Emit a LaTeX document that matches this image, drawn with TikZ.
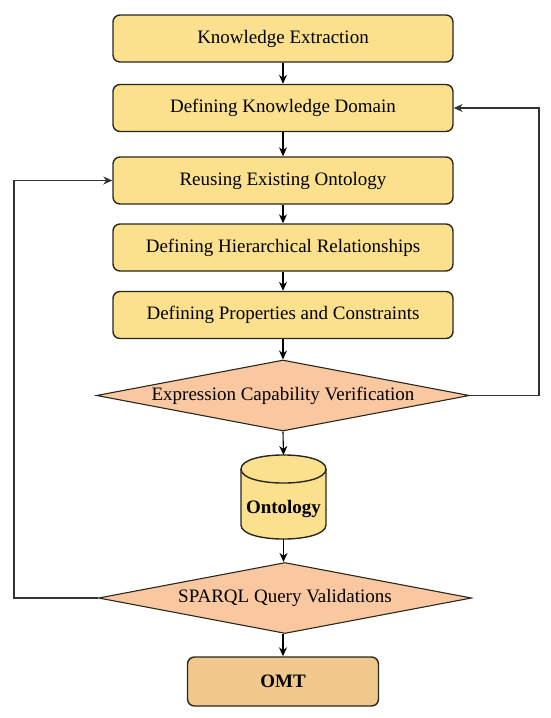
\documentclass[tikz,border=0pt]{standalone}
\usepackage{fontspec}
\setmainfont{Liberation Serif}
\usetikzlibrary{shapes.geometric,arrows.meta}
\definecolor{boxfill}{RGB}{251,224,142}
\definecolor{diafill}{RGB}{250,200,160}
\definecolor{omtfill}{RGB}{240,200,140}
\definecolor{edgec}{RGB}{40,40,30}
\tikzset{
  stepbox/.style={draw=edgec, line width=1.4pt, fill=boxfill, rounded corners=7pt,
    minimum width=340pt, minimum height=47pt, inner sep=0pt, font=\fontsize{19}{22}\selectfont},
  decide/.style={diamond, draw=edgec, line width=1.1pt, fill=diafill, aspect=5.25,
    minimum width=373pt, minimum height=71pt, inner sep=0pt, font=\fontsize{19}{22}\selectfont},
  endbox/.style={draw=edgec, line width=1.4pt, fill=omtfill, rounded corners=7pt,
    minimum width=191pt, minimum height=49pt, inner sep=0pt, font=\fontsize{19}{22}\selectfont\bfseries},
  conn/.style={draw=black, line width=1.1pt, -{Stealth[length=9pt,width=8pt]}},
  loopline/.style={draw=black!80, line width=1.1pt, -{Stealth[length=9pt,width=8pt]}}
}
\begin{document}
\begin{tikzpicture}[x=1pt,y=-1pt]
\useasboundingbox (0,0) rectangle (550,718);
\node[stepbox] (b1) at (283,38.5) {Knowledge Extraction};
\node[stepbox] (b2) at (283,108) {Defining Knowledge Domain};
\node[stepbox] (b3) at (283,180.5) {Reusing Existing Ontology};
\node[stepbox] (b4) at (283,247.5) {Defining Hierarchical Relationships};
\node[stepbox] (b5) at (283,315) {Defining Properties and Constraints};
\node[decide] (d1) at (283,395.5) {Expression Capability Verification};
% cylinder
\coordinate (cyltop) at (283.5,455);
\coordinate (cylbot) at (283.5,539);
\draw[draw=edgec, line width=1.4pt, fill=boxfill]
  (241,469) -- (241,525) .. controls (241,543.7) and (326,543.7) .. (326,525) -- (326,469)
  .. controls (326,450.3) and (241,450.3) .. (241,469) -- cycle;
\draw[draw=edgec, line width=1.4pt] (241,469) .. controls (241,487.7) and (326,487.7) .. (326,469);
\node[font=\fontsize{19}{22}\selectfont\bfseries] (onto) at (283.5,509) {Ontology};
\node[decide] (d2) at (285,598) {SPARQL Query Validations};
\node[endbox] (omt) at (283,681.5) {OMT};
\coordinate (rloop) at (539,395.5);
\coordinate (lloop) at (14,598);
\draw[conn] (b1) -- (b2);
\draw[conn] (b2) -- (b3);
\draw[conn] (b3) -- (b4);
\draw[conn] (b4) -- (b5);
\draw[conn] (b5) -- (d1.north);
\draw[conn] (d1.south) -- (cyltop);
\draw[conn] (cylbot) -- (cylbot |- d2.north);
\draw[conn] (d2.south -| omt.north) -- (omt.north);
\draw[loopline] (d1.east) -- (rloop) |- (b2.east);
\draw[loopline] (d2.west) -- (lloop) |- (b3.west);
\end{tikzpicture}
\end{document}
